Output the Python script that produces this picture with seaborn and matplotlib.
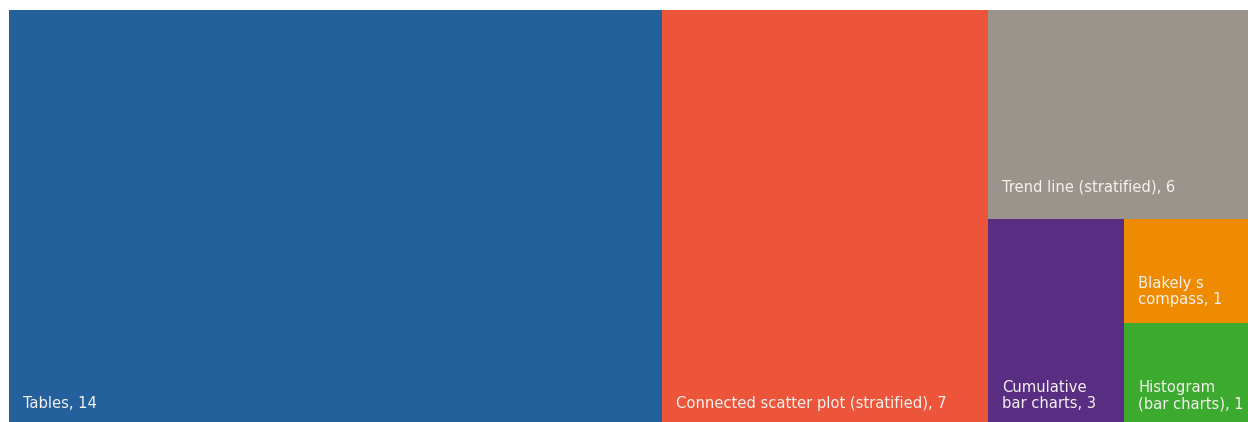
import matplotlib
matplotlib.use("Agg")
import matplotlib.pyplot as plt
import seaborn as sns

# Kategorien und Werte aus dem Bild
categories = ["Tables", "Connected scatter plot (stratified)", "Trend line (stratified)",
              "Cumulative\nbar charts", "Blakely s\ncompass", "Histogram\n(bar charts)"]
counts = [14, 7, 6, 3, 1, 1]
area_weights = [14, 7, 2.83, 1.44, 0.67, 0.64]
colors = ["#23609C", "#EC553A", "#9B948C", "#592D82", "#EE8B00", "#3BAA2F"]

# Schnittrichtung pro Rechteck: "v" = Spalte abschneiden, "h" = Zeile oben abschneiden
split_dirs = ["v", "v", "h", "v", "h", "h"]
# Abstand der Beschriftung vom unteren Rand (Pixel)
label_pad = [11, 11, 24, 11, 16, 11]

sns.set_theme(style="white")
plt.rcParams["font.family"] = ["DejaVu Sans"]
plt.rcParams["font.stretch"] = "condensed"

W, H = 100.0, 100.0


def layout(weights, dirs, x0, y0, w, h):
    rects = []
    remaining = sum(weights)
    for wt, d in zip(weights, dirs):
        frac = wt / remaining
        if d == "v":
            rw = w * frac
            rects.append((x0, y0, rw, h))
            x0 += rw
            w -= rw
        else:
            rh = h * frac
            rects.append((x0, y0 + h - rh, w, rh))
            h -= rh
        remaining -= wt
    return rects


rects = layout(area_weights, split_dirs, 0, 0, W, H)

fig = plt.figure(figsize=(12.48, 4.22), dpi=100)
ax = fig.add_axes([9 / 1248, 0, 1239 / 1248, 412 / 422])

for (x, y, w, h), c, name, n, pad in zip(rects, colors, categories, counts, label_pad):
    ax.bar(x, h, width=w, bottom=y, align="edge", color=c, linewidth=0)
    ax.annotate(f"{name}, {n}", xy=(x, y), xytext=(14, pad), textcoords="offset pixels",
                ha="left", va="bottom", color="#F4F1EE", fontsize=11.8,
                fontstretch="condensed", linespacing=1.1)

ax.set_xlim(0, W)
ax.set_ylim(0, H)
ax.axis("off")

fig.savefig("out.png", dpi=100)
